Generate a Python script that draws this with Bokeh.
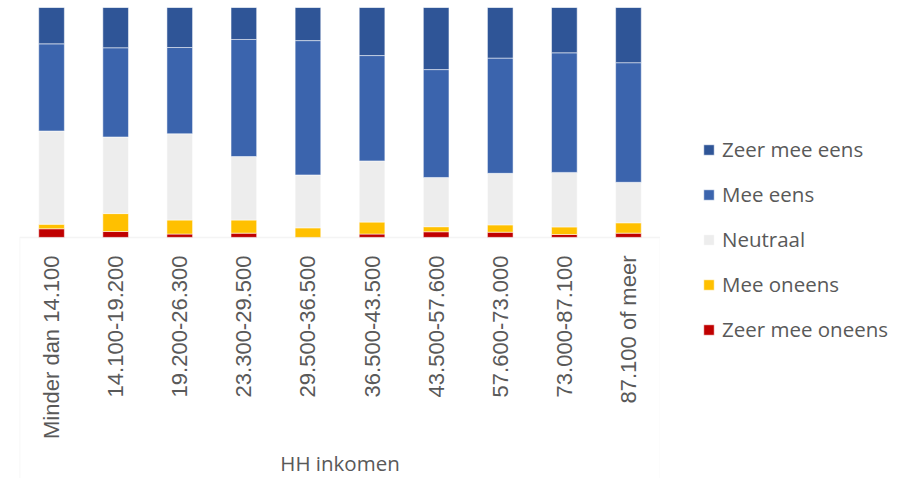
import math
from bokeh.plotting import figure
from bokeh.layouts import row
from bokeh.models import FactorRange, Range1d, BoxAnnotation, Legend, LegendItem, ColumnDataSource
from bokeh.embed import file_html
from bokeh.resources import INLINE

categories = ["Minder dan 14.100", "14.100-19.200", "19.200-26.300", "23.300-29.500",
              "29.500-36.500", "36.500-43.500", "43.500-57.600", "57.600-73.000",
              "73.000-87.100", "87.100 of meer"]
zeer_mee_oneens = [3.8, 2.6, 1.5, 1.9, 0.0, 1.5, 2.5, 2.3, 1.3, 1.9]
mee_oneens = [2.0, 7.8, 6.1, 5.7, 4.2, 5.2, 2.2, 3.2, 3.3, 4.5]
neutraal = [40.5, 33.3, 37.5, 27.6, 23.0, 26.6, 21.4, 22.4, 23.7, 17.6]
mee_eens = [37.9, 38.8, 37.5, 50.9, 58.4, 45.8, 46.9, 50.1, 52.0, 52.0]
zeer_mee_eens = [15.8, 17.5, 17.4, 13.9, 14.4, 20.9, 27.0, 22.0, 19.7, 24.0]

series_names = ["Zeer mee oneens", "Mee oneens", "Neutraal", "Mee eens", "Zeer mee eens"]
series_keys = ["zmo", "mo", "neu", "me", "zme"]
colors = ["#C00000", "#FFC000", "#EDEDED", "#3B64AD", "#2F5597"]
axis_title = "HH inkomen"

source = ColumnDataSource(data=dict(
    cat=categories, zmo=zeer_mee_oneens, mo=mee_oneens, neu=neutraal,
    me=mee_eens, zme=zeer_mee_eens))

# ---- chart ----
p = figure(x_range=FactorRange(*categories), y_range=Range1d(-104.78, 100),
           width=660, height=478, output_backend="svg", toolbar_location=None,
           min_border_left=19, min_border_right=0, min_border_top=7, min_border_bottom=0)
p.outline_line_color = None
p.grid.visible = False
p.yaxis.visible = False

p.vbar_stack(series_keys, x="cat", width=0.4, color=colors, source=source,
             line_color="white", line_alpha=0.5, line_width=1)

box = BoxAnnotation(top=0, bottom=-300, fill_alpha=0, line_color="#D9D9D9", line_width=1.5)
p.add_layout(box)

ax = p.xaxis[0]
ax.fixed_location = 0
ax.axis_line_color = None
ax.major_tick_line_color = None
ax.minor_tick_line_color = None
ax.major_tick_out = 0
ax.major_tick_in = 0
ax.major_label_orientation = math.pi / 2
ax.major_label_standoff = 18
ax.major_label_text_font = "Liberation Sans"
ax.major_label_text_font_size = "22px"
ax.major_label_text_color = "#595959"
ax.axis_label = axis_title
ax.axis_label_text_font = "Open Sans"
ax.axis_label_text_font_size = "20.5px"
ax.axis_label_text_font_style = "normal"
ax.axis_label_text_color = "#595959"
ax.axis_label_standoff = 7

# ---- legend panel ----
q = figure(x_range=FactorRange(*categories), y_range=Range1d(0, 100),
           width=240, height=478, output_backend="svg", toolbar_location=None,
           min_border_left=0, min_border_right=0, min_border_top=0, min_border_bottom=0)
q.outline_line_color = None
q.grid.visible = False
q.axis.visible = False
legend_renderers = q.vbar_stack(series_keys, x="cat", width=0.4, color=colors, source=source,
                                line_color="white", line_alpha=0.5, line_width=1)
for r in legend_renderers:
    r.visible = False

items = [LegendItem(label=series_names[i], renderers=[legend_renderers[i]]) for i in range(4, -1, -1)]
legend = Legend(items=items, location=(42, 135), padding=0, margin=0,
                glyph_width=13, glyph_height=13, label_standoff=7,
                label_height=20, spacing=17,
                label_text_font="Open Sans", label_text_font_size="20.5px",
                label_text_color="#595959", border_line_color=None,
                background_fill_alpha=0, inactive_fill_alpha=0)
q.add_layout(legend)

layout = row(p, q)
open("out.html", "w").write(file_html(layout, INLINE))
